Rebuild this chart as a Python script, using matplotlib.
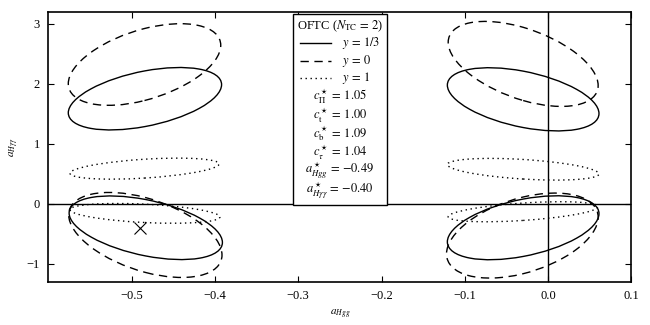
import matplotlib
matplotlib.use('Agg')
import matplotlib.pyplot as plt
from matplotlib.patches import Circle
from matplotlib.transforms import Affine2D
from matplotlib.lines import Line2D
from matplotlib.offsetbox import AnchoredOffsetbox, VPacker, HPacker, TextArea, DrawingArea

# contour ellipses: centre, half width in x, y-shift at the x extreme, half thickness
contour_model = ['0', '1/3', '1', '1', '1/3', '0',
                 '0', '1/3', '1', '1', '1/3', '0']
contour_cx = [-0.4845, -0.484, -0.4845, -0.484, -0.483, -0.4835,
              -0.030, -0.030, -0.030, -0.030, -0.030, -0.031]
contour_cy = [2.32, 1.75, 0.585, -0.16, -0.40, -0.52,
              2.33, 1.74, 0.575, -0.133, -0.40, -0.53]
contour_ax = [0.0915, 0.092, 0.0895, 0.090, 0.092, 0.092,
              0.090, 0.091, 0.091, 0.090, 0.091, 0.091]
contour_b1 = [0.32, 0.235, 0.078, -0.061, -0.245, -0.335,
              -0.36, -0.237, -0.078, 0.083, 0.235, 0.305]
contour_b2 = [0.60, 0.464, 0.157, 0.153, 0.47, 0.624,
              0.61, 0.47, 0.163, 0.145, 0.478, 0.639]

best_fit_x = [-0.49]
best_fit_y = [-0.40]

model_keys = ['1/3', '0', '1']
model_labels = ['$y\\,=\\,1/3$', '$y\\,=\\,0$', '$y\\,=\\,1$']
legend_title = 'OFTC ($N_{\\rm TC}\\,=\\,2$)'
value_labels = ['$c^\\star_\\Pi\\,=\\,1.05$', '$c^\\star_\\mathrm{t}\\,=\\,1.00$',
                '$c^\\star_\\mathrm{b}\\,=\\,1.09$', '$c^\\star_\\tau\\,=\\,1.04$',
                '$a^\\star_{Hgg}\\,=\\,{-}0.49$', '$a^\\star_{H\\gamma\\gamma}\\,=\\,{-}0.40$']

x_ticks = [-0.5, -0.4, -0.3, -0.2, -0.1, 0.0, 0.1]
y_ticks = [-1, 0, 1, 2, 3]

styles = {'1/3': dict(linestyle='-'),
          '0': dict(linestyle=(0, (6, 4))),
          '1': dict(linestyle=(0, (1, 2.6)))}

plt.rcParams['font.family'] = 'serif'
plt.rcParams['font.serif'] = ['Liberation Serif', 'DejaVu Serif']
plt.rcParams['mathtext.fontset'] = 'stix'

fig = plt.figure(figsize=(6.5, 3.25), dpi=100)
ax = fig.add_axes([0.0743, 0.133, 0.8972, 0.831])

for m, cx, cy, a, b1, b2 in zip(contour_model, contour_cx, contour_cy,
                                contour_ax, contour_b1, contour_b2):
    tr = Affine2D([[a, 0, cx], [b1, b2, cy], [0, 0, 1]]) + ax.transData
    c = Circle((0, 0), 1, transform=tr, fill=False, edgecolor='k', lw=1.0,
               **styles[m])
    ax.add_patch(c)

ax.axhline(0, color='k', lw=1.0)
ax.axvline(0, color='k', lw=1.0)
ax.plot(best_fit_x, best_fit_y, linestyle='none', marker='x', color='k',
        ms=8, mew=0.8)

ax.set_xlim(-0.6, 0.1)
ax.set_ylim(-1.3, 3.2)
ax.set_xticks(x_ticks)
ax.set_yticks(y_ticks)
ax.tick_params(direction='in', top=True, right=True, length=4, width=0.8,
               labelsize=9, pad=6)
for s in ax.spines.values():
    s.set_linewidth(1.2)
ax.set_xlabel('$a_{Hgg}$', fontsize=8)
ax.set_ylabel('$a_{H\\gamma\\gamma}$', fontsize=8)

# legend box built by hand so the value lines sit centred
tp = dict(fontsize=9)
rows = []
for key, lab in zip(model_keys, model_labels):
    da = DrawingArea(22, 6, 0, 0)
    da.add_artist(Line2D([0, 22], [3, 3], color='k', lw=1.0, **styles[key]))
    rows.append(HPacker(children=[da, TextArea(lab, textprops=tp)],
                        align='center', pad=0, sep=8))
lines_box = VPacker(children=rows, align='left', pad=0, sep=1)
vals_box = VPacker(children=[TextArea(s, textprops=tp) for s in value_labels],
                   align='center', pad=0, sep=0)
box = VPacker(children=[TextArea(legend_title, textprops=tp), lines_box, vals_box],
              align='center', pad=0, sep=1)
leg = AnchoredOffsetbox(loc='upper center', child=box, pad=0.3, borderpad=0,
                        frameon=True, bbox_to_anchor=(0.5, 0.99),
                        bbox_transform=ax.transAxes)
leg.patch.set_edgecolor('k')
leg.patch.set_linewidth(1.0)
ax.add_artist(leg)

fig.savefig('out.png', dpi=100)
